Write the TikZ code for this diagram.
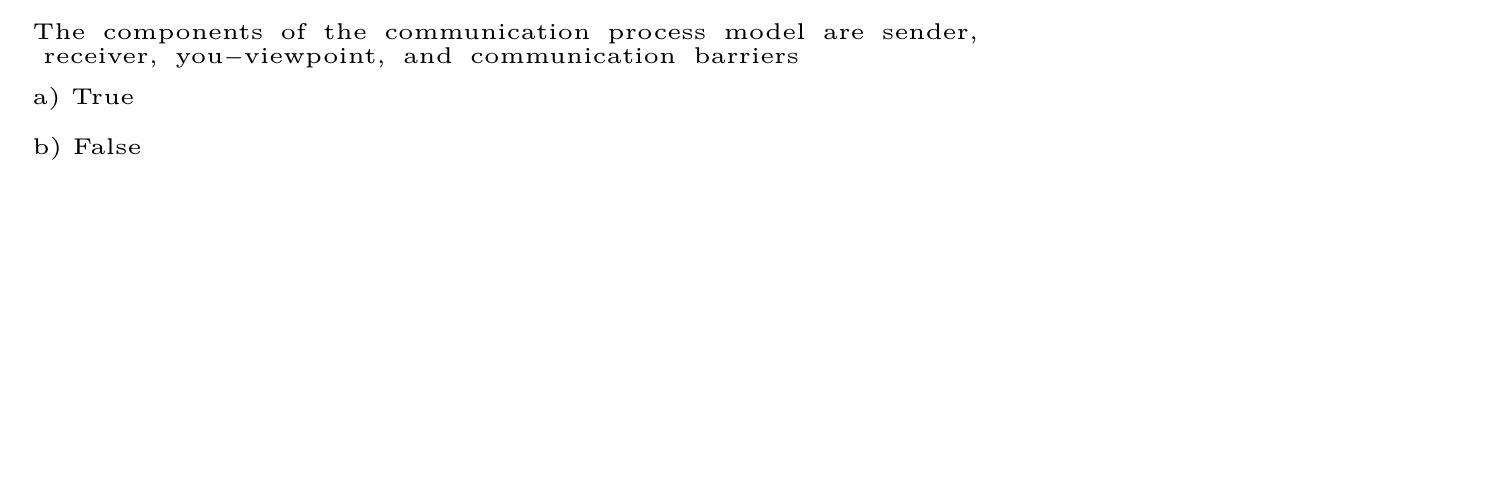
\documentclass[tikz,border=0pt]{standalone}
\usepackage{fontspec}
\newfontfamily\qfont{lmroman5-regular.otf}
\newcommand\widespace{\spaceskip=\dimexpr\fontdimen2\font+1.85pt\relax}
\begin{document}
\begin{tikzpicture}[x=1cm,y=1cm, line join=round, line cap=round,
  atext/.style={anchor=base west, inner sep=0pt, font=\qfont\fontsize{6.5}{7.5}\selectfont},
  qtext/.style={atext, font=\qfont\fontsize{6.5}{7.5}\selectfont\widespace}]
	\def\xl{0.32} % left margin
	\useasboundingbox (0,0) rectangle (15,-5);
	\node[qtext] (qone) at (\xl,-0.395) {The components of the communication process model are sender,};
	\node[qtext] (qtwo) at (\xl-0.065,-0.64) {\ receiver, you$-$viewpoint, and communication barriers};
	\node[atext] (opta) at (\xl,-1.043) {a) True};
	\node[atext] (optb) at (\xl,-1.55) {b) False};
\end{tikzpicture}
\end{document}
